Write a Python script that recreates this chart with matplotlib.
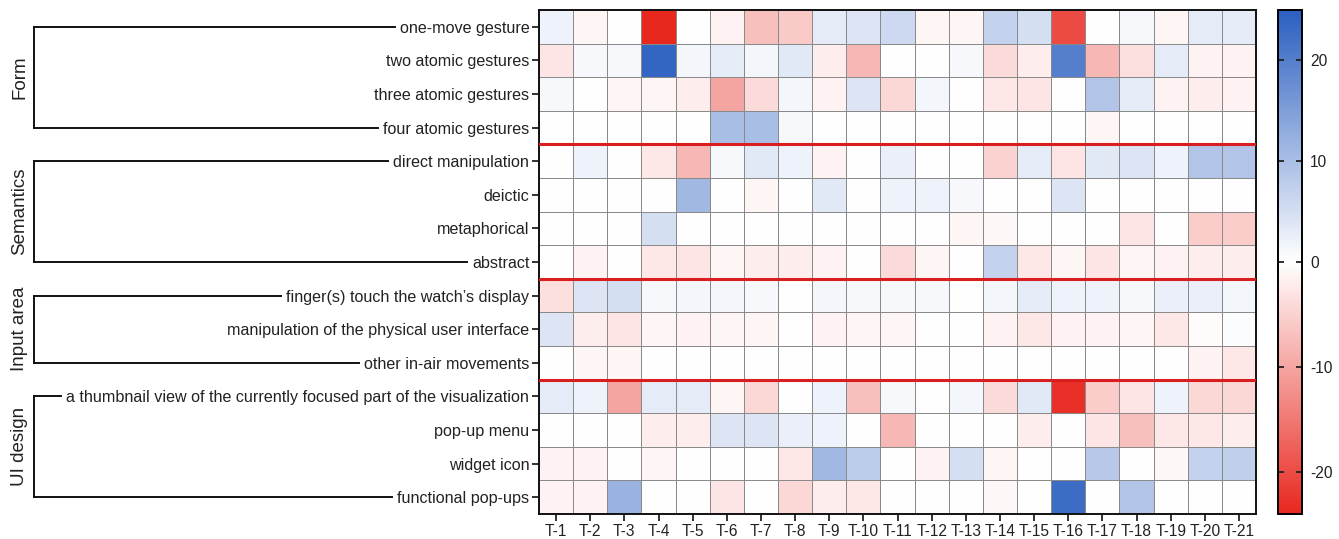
import numpy as np
import matplotlib
matplotlib.use("Agg")
import matplotlib.pyplot as plt
from matplotlib.colors import LinearSegmentedColormap, TwoSlopeNorm
from matplotlib.lines import Line2D

plt.rcParams['font.family'] = ['Liberation Sans', 'DejaVu Sans']
plt.rcParams['axes.unicode_minus'] = False

tasks = [f"T-{i}" for i in range(1, 22)]

rows = [
    "one-move gesture", "two atomic gestures", "three atomic gestures", "four atomic gestures",
    "direct manipulation", "deictic", "metaphorical", "abstract",
    "finger(s) touch the watch\u2019s display", "manipulation of the physical user interface",
    "other in-air movements",
    "a thumbnail view of the currently focused part of the visualization",
    "pop-up menu", "widget icon", "functional pop-ups",
]

groups = ["Form", "Semantics", "Input area", "UI design"]
group_rows = [(0, 3), (4, 7), (8, 10), (11, 14)]

# residual values, one list per row (T-1 .. T-21)
one_move   = [2, -1, 0, -24, 0, -1.5, -7, -6, 3, 4, 6, -1, -1, 7, 5, -20, 0, 1, -1, 3, 3]
two_atomic = [-3, 1, 1, 24, 1.5, 3, 1.5, 3.5, -2, -8, 0, 0, 1, -4, -2, 20, -8, -3.5, 3, -1.5, -1.5]
three_atom = [1, 0, -1, -1, -2, -10, -4, 1.5, -1.5, 4, -4.5, 1.5, 0, -2.5, -3, 0, 9, 3, -1.5, -2, -1.5]
four_atom  = [0, 0, 0, 0, 0, 10, 10, 1, 0, 0, 0, 0, 0, 0, 0, 0, -1, 0, 0, 0, 0]
direct     = [0, 2, 0, -2.5, -8, 1, 3.5, 2, -1.5, 0, 2.5, 0, 0, -5, 3, -3, 3.5, 4, 2, 9, 9]
deictic    = [0, 0, 0, 0, 11, 0, -1, 0, 3.5, 0, 2, 2, 1, 0, 0, 4, 0, 0, 0, 0, 0]
metaphor   = [0, 0, 0, 5, 0, 0, 0, 0, 0, 0, 0, 0, -1, -0.8, 0, 0, 0, -3, 0, -5.5, -5.5]
abstract   = [0, -1.5, 0, -2.5, -3, -1, -2, -2, -1.5, 0, -4, -1, 0, 7, -2.5, -1, -3, -1, -1.5, -2, -2]
finger     = [-3.5, 4, 5, 1, 1.5, 1.5, 1, 0, 1.5, 1, 1, 1, 0, 1.5, 3, 2, 2, 1, 2.5, 2.5, 1.5]
physical   = [4, -2, -3, -1, -1.5, -1, -1, 0, -1.5, -1, -1, 0, 0, -1.5, -2.5, -1.5, -1.5, -1, -2.5, -0.5, 0.5]
in_air     = [0, -1, -1, 0, 0, 0, 0, 0, 0, 0, 0, 0, 0, 0, 0, 0, 0, 0, 0, -1.5, -2.5]
thumbnail  = [3, 2, -10, 3, 3, -1, -4.5, 0, 2, -7, 1, 0, 1.5, -4, 3.5, -23, -5.5, -3, 2, -4.5, -4.5]
popup_menu = [0, 0, 0, -2, -2, 4, 4, 2.5, 2, 0, -8, 0, 0, 0, -2, 0, -3, -7, -2.5, -2.5, -2]
widget     = [-1.5, -1.5, 0, -1, 0, 0, 0, -2.5, 11, 8, 0, -1.5, 5, -1, 0, 0, 8.5, 0, -0.8, 7, 7.5]
functional = [-1.5, -1.5, 12, 0, 0, -3, 0, -4.5, -2, -2.5, 0, 0, 0, -0.8, 0, 23, 0, 9, 0, 0, 0]

values = np.array([one_move, two_atomic, three_atom, four_atom, direct, deictic, metaphor,
                   abstract, finger, physical, in_air, thumbnail, popup_menu, widget, functional])

W, H = 1339, 539
fig = plt.figure(figsize=(W / 100, H / 100), dpi=100)

ax_l, ax_r, ax_t, ax_b = 539, 1256, 10, 514
ax = fig.add_axes([ax_l / W, 1 - ax_b / H, (ax_r - ax_l) / W, (ax_b - ax_t) / H])

cmap = LinearSegmentedColormap.from_list("rwb", ["#e8281f", "#ffffff", "#2b5fbf"])
norm = TwoSlopeNorm(vmin=-24, vcenter=0, vmax=25)

mesh = ax.pcolormesh(values, cmap=cmap, norm=norm, edgecolors="#8a8a8a", linewidth=0.6)
ax.set_xlim(0, len(tasks))
ax.set_ylim(len(rows), 0)

ax.set_xticks(np.arange(len(tasks)) + 0.5)
ax.set_xticklabels(tasks, fontsize=11.2, color="#222222")
ax.set_yticks(np.arange(len(rows)) + 0.5)
ax.set_yticklabels(rows, fontsize=11.6, color="#222222")
ax.tick_params(axis="both", length=5, width=1.3, color="#222222", pad=2)
for s in ax.spines.values():
    s.set_linewidth(1.4)
    s.set_color("#111111")

# group separators
for y in [4, 8, 11]:
    ax.axhline(y, color="#d81e1e", linewidth=2.2, zorder=5)

# colorbar
cax = fig.add_axes([1278 / W, 1 - ax_b / H, 24 / W, (ax_b - ax_t) / H])
cb = fig.colorbar(mesh, cax=cax)
cb.set_ticks([-20, -10, 0, 10, 20])
cb.ax.tick_params(labelsize=11.2, length=4, width=1.3, direction="in", left=True, right=True,
                  colors="#222222", pad=6)
cb.outline.set_linewidth(1.4)

# brackets on the left
fig.canvas.draw()
renderer = fig.canvas.get_renderer()
labels = ax.get_yticklabels()
x_vert = 34 / W
for name, (r0, r1) in zip(groups, group_rows):
    y0 = ax.transData.transform((0, r0 + 0.5))[1] / H
    y1 = ax.transData.transform((0, r1 + 0.5))[1] / H
    for r, yy in [(r0, y0), (r1, y1)]:
        bb = labels[r].get_window_extent(renderer)
        xe = (bb.x0 - 5) / W
        fig.add_artist(Line2D([x_vert, xe], [yy, yy], color="#111111", lw=1.4))
    fig.add_artist(Line2D([x_vert, x_vert], [y0, y1], color="#111111", lw=1.4))
    fig.text(20 / W, (y0 + y1) / 2, name, rotation=90, ha="center", va="center",
             fontsize=13.5, color="#222222")

fig.savefig("out.png", dpi=100)
